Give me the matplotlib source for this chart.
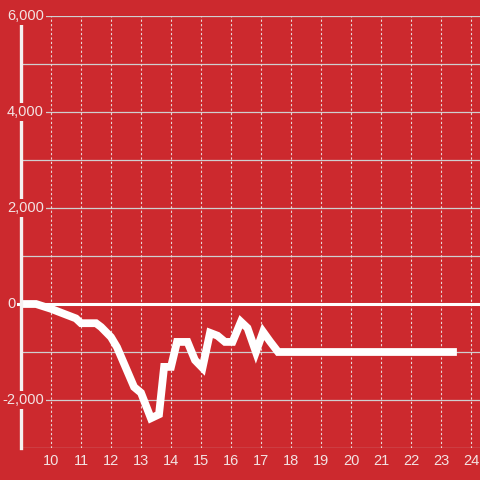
import matplotlib.pyplot as plt
import numpy as np

# hours of day vs running value
hours = [9.0, 9.5, 10.0, 10.33, 10.83, 11.0, 11.5, 11.67, 12.0, 12.2, 12.77, 13.0,
         13.33, 13.6, 13.77, 14.0, 14.2, 14.55, 14.8, 15.05, 15.3, 15.55, 15.8,
         16.05, 16.33, 16.55, 16.83, 17.07, 17.3, 17.57, 23.4]
values = [0, 0, -100, -180, -300, -400, -400, -480, -690, -900, -1730, -1850,
          -2380, -2300, -1310, -1310, -790, -790, -1170, -1330, -600, -660, -790,
          -790, -370, -500, -1000, -580, -780, -1000, -1000]

x_ticks = list(range(10, 25))
y_labels = [-2000, 0, 2000, 4000, 6000]
y_grid = [-3000, -2000, -1000, 1000, 2000, 3000, 4000, 5000, 6000]

bg = '#cc292e'
txt = '#f3e3e3'
grid = '#cfcfcf'

fig = plt.figure(figsize=(4.8, 4.8), dpi=100, facecolor=bg)
ax = fig.add_axes([21 / 480, 32 / 480, 459 / 480, 432 / 480], facecolor=bg)
ax.set_xlim(9.0, 24.3)
ax.set_ylim(-3000, 6000)

for v in y_grid:
    ax.axhline(v, color=grid, lw=0.9, zorder=1)
for t in x_ticks:
    ax.axvline(t, color='#e8d8d8', lw=0.8, ls=(0, (2, 2)), zorder=1)
ax.axhline(0, xmin=-4 / 459, color='white', lw=2.2, zorder=2, clip_on=False)

ax.plot(hours, values, color='white', lw=5.6, zorder=3, solid_joinstyle='miter')

for s in ['top', 'right', 'bottom']:
    ax.spines[s].set_visible(False)
ax.spines['left'].set_color('#f5f0f0')
ax.spines['left'].set_linewidth(2.4)
ax.spines['left'].set_bounds(-3000, 5833)
ax.spines['left'].set_zorder(4)

ax.set_xticks([])
ax.set_yticks([])

trans_y = ax.get_yaxis_transform()
for v in y_labels:
    x0 = (7 - 21) / 459 if v >= 0 else (2 - 21) / 459
    ax.text(x0, v, f'{v:,}', transform=trans_y, ha='left', va='center',
            color=txt, fontsize=10.5, family='Liberation Sans', zorder=6, clip_on=False,
            bbox=dict(facecolor=bg, edgecolor='none', pad=1.5))

trans_x = ax.get_xaxis_transform()
for t in x_ticks:
    ax.text(t, -13 / 432, str(t), transform=trans_x, ha='center', va='center',
            color=txt, fontsize=10.5, family='Liberation Sans', clip_on=False)

fig.savefig('out.png', dpi=100, facecolor=bg)
